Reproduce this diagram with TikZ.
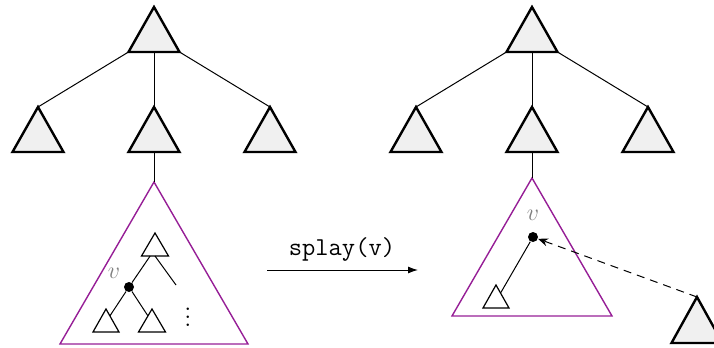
\documentclass[tikz,border=0pt]{standalone}
\usetikzlibrary{calc,arrows.meta}
\definecolor{purp}{RGB}{150,30,150}
\newcommand\mytri[6]{%
  \coordinate (#1-t) at (#2,#3);
  \coordinate (#1-l) at (#2-#4,#3+#5);
  \coordinate (#1-r) at (#2+#4,#3+#5);
  \coordinate (#1-b) at (#2,#3+#5);
  \draw[#6] (#1-t) -- (#1-l) -- (#1-r) -- cycle;}
\tikzset{
  big/.style={fill=gray!12, line width=1.2pt, line join=miter},
  small/.style={fill=white, line width=0.6pt},
  sub/.style={draw=purp, line width=0.7pt},
  edge/.style={line width=0.5pt},
  dotnode/.style={circle, fill=black, inner sep=0pt, minimum size=5pt},
  vlab/.style={text=gray, font=\fontsize{12.9}{15}\selectfont},
}
\begin{document}
\begin{tikzpicture}[x=0.5pt,y=-0.5pt]
\useasboundingbox (0,0) rectangle (714,348);
\clip (0,0) rectangle (714,348);
% ---------- left tree ----------
\mytri{A}{154}{7}{25.5}{45}{big}
\mytri{A1}{38}{107}{25.5}{45}{big}
\mytri{A2}{154}{107}{25.5}{45}{big}
\mytri{A3}{270}{107}{25.5}{45}{big}
\draw[edge] (A-l) -- (A1-t);
\draw[edge] (A-b) -- (A2-t);
\draw[edge] (A-r) -- (A3-t);
\mytri{P}{154}{182}{94}{162}{sub}
\draw[edge] (A2-b) -- (P-t);
\mytri{U}{155}{233}{13.5}{23}{small}
\mytri{L}{106}{309}{13}{23}{small}
\mytri{R}{152}{309}{13.5}{23}{small}
\node[dotnode] (d1) at (129,287) {};
\node[vlab] (v1) at (114,273) {$v$};
\coordinate (Ub) at ($(U-l)!0.32!(U-r)$);
\coordinate (Ub2) at (155,256);
\coordinate (Uend) at (176,285);
\coordinate (Lside) at ($(L-t)!0.3!(L-r)$);
\coordinate (Rside) at ($(R-t)!0.3!(R-l)$);
\draw[edge] (d1) -- (Ub);
\draw[edge] (Ub2) -- (Uend);
\draw[edge] (d1) -- (Lside);
\draw[edge] (d1) -- (Rside);
\node[font=\fontsize{12.9}{15}\selectfont, inner sep=0pt] (vd) at (188,311) {$\vdots$};
% ---------- arrow ----------
\coordinate (ar1) at (267,270);
\coordinate (ar2) at (418,270);
\draw[edge, -{Latex[length=5pt,width=3.5pt]}] (ar1) -- (ar2);
\node[font=\fontsize{12.9}{15}\selectfont\ttfamily] (lab) at (342,249) {splay(v)};
% ---------- right tree ----------
\mytri{B}{532}{7}{25.5}{45}{big}
\mytri{B1}{416}{107}{25.5}{45}{big}
\mytri{B2}{532}{107}{25.5}{45}{big}
\mytri{B3}{648}{107}{25.5}{45}{big}
\draw[edge] (B-l) -- (B1-t);
\draw[edge] (B-b) -- (B2-t);
\draw[edge] (B-r) -- (B3-t);
\mytri{Q}{532}{178}{80}{138}{sub}
\draw[edge] (B2-b) -- (Q-t);
\mytri{S}{496}{285}{13}{23}{small}
\node[dotnode] (d2) at (533,237) {};
\node[vlab] (v2) at (533,215) {$v$};
\coordinate (Sside) at ($(S-t)!0.35!(S-r)$);
\draw[edge] (d2) -- (Sside);
\mytri{T}{697}{297}{25.5}{46}{big}
\draw[edge, dash pattern=on 4pt off 3pt, -{Stealth[length=5pt,width=4pt]}] (T-t) -- (d2);
\end{tikzpicture}
\end{document}
